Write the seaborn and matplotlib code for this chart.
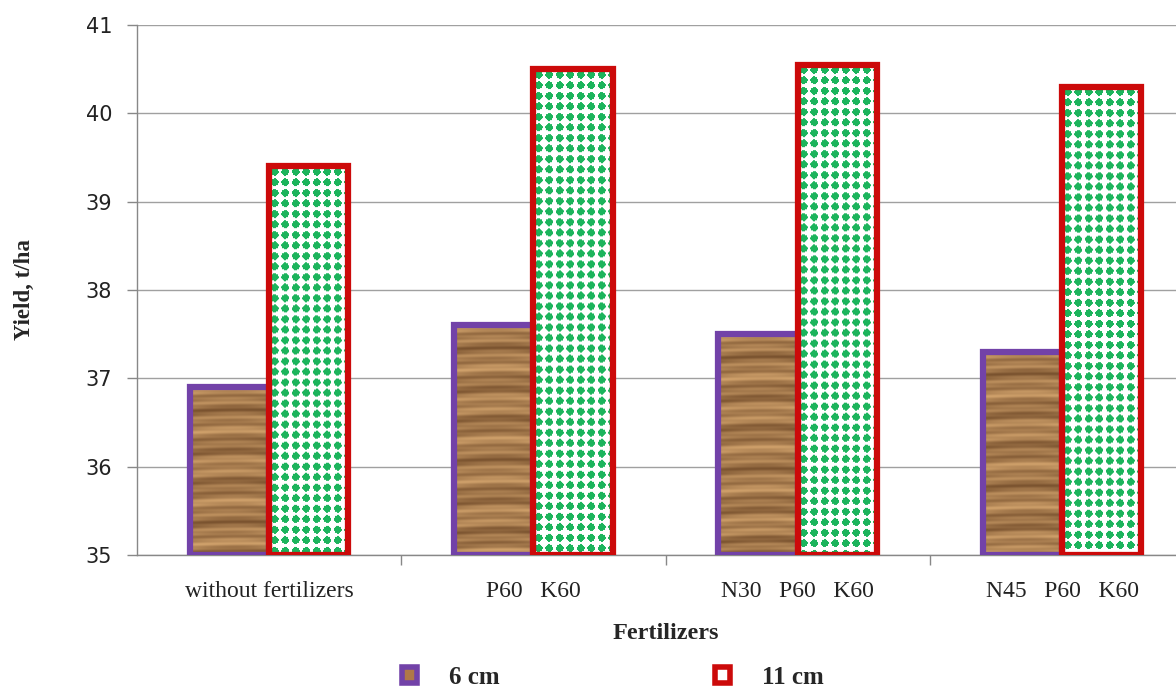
import numpy as np
import pandas as pd
import matplotlib
matplotlib.use("Agg")
import matplotlib.pyplot as plt
from matplotlib.patches import Patch
import seaborn as sns

categories = ["without fertilizers", "P60   K60", "N30   P60   K60", "N45   P60   K60"]
yield_6cm = [36.9, 37.6, 37.5, 37.3]
yield_11cm = [39.4, 40.5, 40.55, 40.3]
series = ["6 cm", "11 cm"]
y_ticks = [35, 36, 37, 38, 39, 40, 41]

df = pd.DataFrame({
    "Fertilizers": categories * 2,
    "Yield": yield_6cm + yield_11cm,
    "Spacing": [series[0]] * 4 + [series[1]] * 4,
})

sns.set_theme(style="white")
plt.rcParams["font.family"] = ["DejaVu Sans"]

fig = plt.figure(figsize=(11.76, 6.93), dpi=100)
ax = fig.add_axes([0.1165, 0.199, 0.899, 0.765])

purple = "#7242A8"
red = "#CC0A0A"
base = 35

sns.barplot(data=df, x="Fertilizers", y="Yield", hue="Spacing", hue_order=series,
            width=0.6, palette=[purple, red], ax=ax, legend=False, zorder=3)


def wood_texture(h, w):
    i = np.arange(h)[:, None].astype(float)
    j = np.arange(w)[None, :].astype(float)
    v = (0.6 + 0.17 * np.sin(i * 0.45 + 1.4 * np.sin(j * 0.035))
         + 0.13 * np.sin(i * 0.17 + 0.5 + 0.6 * np.sin(j * 0.02))
         + 0.08 * np.sin(i * 1.3 + j * 0.015))
    v = np.clip(v, 0, 1)[..., None]
    dark = np.array([95, 58, 28]) / 255
    light = np.array([212, 165, 110]) / 255
    return dark + (light - dark) * v


def dot_texture(h, w, step=10.5):
    i = np.arange(h)[:, None].astype(float)
    j = np.arange(w)[None, :].astype(float)
    di = (i % step) - step / 2
    dj = (j % step) - step / 2
    inside = (np.abs(di) ** 1.5 + np.abs(dj) ** 1.5) < 4.0 ** 1.5
    img = np.ones((h, w, 3))
    img[inside] = np.array([28, 180, 92]) / 255
    return img


px_per_unit = 88.3
for idx, p in enumerate(ax.patches):
    top = p.get_height()
    p.set_y(base)
    p.set_height(top - base)
    edge = purple if idx < 4 else red
    p.set_facecolor("none")
    p.set_edgecolor(edge)
    p.set_linewidth(4.5)
    p.set_zorder(4)
    x0 = p.get_x()
    x1 = x0 + p.get_width()
    h = max(int((top - base) * px_per_unit), 2)
    w = 80
    tex = wood_texture(h, w) if idx < 4 else dot_texture(h, w)
    im = ax.imshow(tex, extent=[x0, x1, base, top], aspect="auto", origin="upper",
                   interpolation="bilinear", zorder=3)
    im.set_clip_path(p)

ax.set_xlim(-0.5, 3.5)
ax.set_ylim(35, 41)
ax.set_yticks(y_ticks)
ax.set_yticklabels([str(t) for t in y_ticks], fontsize=15, color="#222222")
ax.yaxis.grid(True, color="#A0A0A0", linewidth=1)
ax.set_axisbelow(True)

ax.set_xticks([0.5, 1.5, 2.5])
ax.set_xticklabels([])
ax.set_xticks([0, 1, 2, 3], minor=True)
ax.set_xticklabels(categories, minor=True, fontsize=17, family="Liberation Serif", color="#222222")
ax.tick_params(axis="x", which="major", length=7, width=1, color="#888888", direction="out", bottom=True)
ax.tick_params(axis="x", which="minor", length=0, pad=19)
ax.tick_params(axis="y", length=7, width=1, color="#888888", direction="out", left=True, pad=11)

for side in ["top", "right"]:
    ax.spines[side].set_visible(False)
for side in ["left", "bottom"]:
    ax.spines[side].set_color("#888888")
    ax.spines[side].set_linewidth(1)

ax.set_xlabel("Fertilizers", fontsize=17.5, fontweight="bold", family="Liberation Serif", labelpad=15)
ax.set_ylabel("Yield, t/ha", fontsize=16.5, fontweight="bold", family="Liberation Serif", labelpad=36)

handles = [
    Patch(facecolor="#B07848", edgecolor=purple, linewidth=4),
    Patch(facecolor="white", edgecolor=red, linewidth=4),
]
fig.legend(handles, series, loc="lower center", bbox_to_anchor=(0.521, -0.026), ncol=2,
           frameon=False, handlelength=0.6, handleheight=0.6, handletextpad=1.3,
           columnspacing=8.6, prop={"family": "Liberation Serif", "weight": "bold", "size": 18})

fig.savefig("out.png", dpi=100)
